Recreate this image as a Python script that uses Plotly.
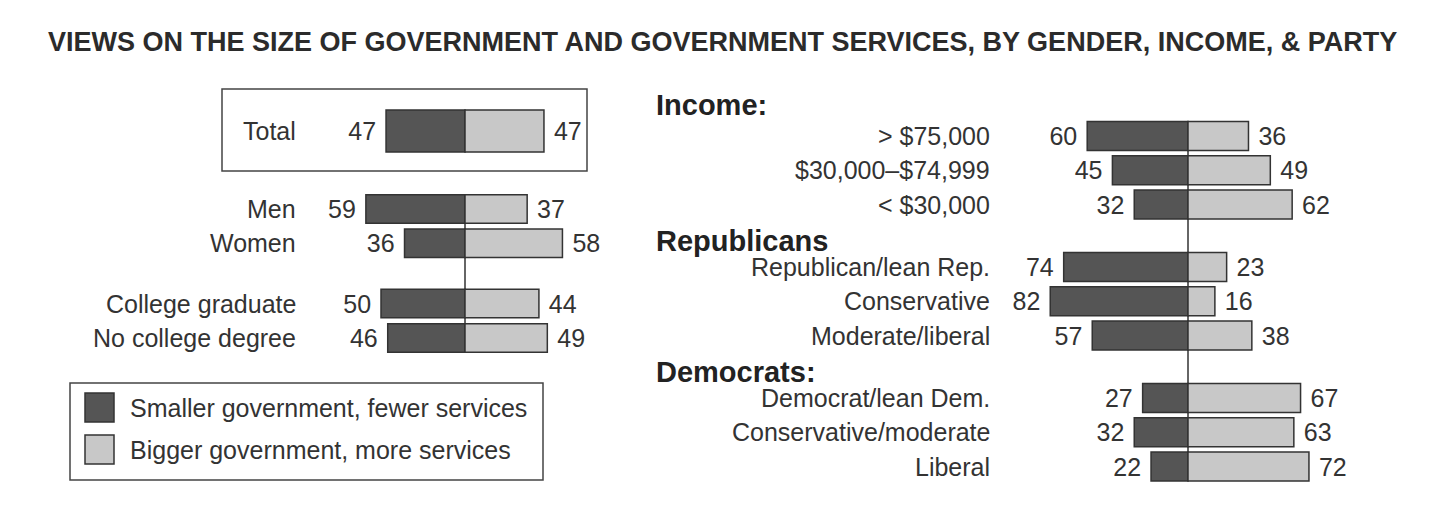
import plotly.graph_objects as go

# ---------------- data ----------------
title_text = "VIEWS ON THE SIZE OF GOVERNMENT AND GOVERNMENT SERVICES, BY GENDER, INCOME, & PARTY"
series_names = ["Smaller government, fewer services", "Bigger government, more services"]

left_labels = ["Total", "Men", "Women", "College graduate", "No college degree"]
left_smaller = [47, 59, 36, 50, 46]
left_bigger = [47, 37, 58, 44, 49]
left_groups = [0, 1, 1, 2, 2]

right_headers = ["Income:", "Republicans", "Democrats:"]
right_labels = ["> $75,000", "$30,000\u2013$74,999", "< $30,000",
                "Republican/lean Rep.", "Conservative", "Moderate/liberal",
                "Democrat/lean Dem.", "Conservative/moderate", "Liberal"]
right_smaller = [60, 45, 32, 74, 82, 57, 27, 32, 22]
right_bigger = [36, 49, 62, 23, 16, 38, 67, 63, 72]
right_groups = [0, 0, 0, 1, 1, 1, 2, 2, 2]

# ---------------- layout constants ----------------
W, H = 1440, 529
SCALE = 1.68          # px per percentage point
LC, RC = 465, 1188    # zero line pixel positions (left / right panel)
PITCH = 34.3
DARK = "#555555"
LIGHT = "#c8c8c8"
EDGE = "#333333"
TXT = "#333333"
FONT = "Liberation Sans, Arial, Helvetica, sans-serif"
FS = 25

def positions(groups, start, gaps):
    ys, y, prev = [], start, None
    for g in groups:
        if prev is not None:
            y += PITCH
            if g != prev:
                y += gaps[g - 1]
        ys.append(y)
        prev = g
    return ys

left_y = positions(left_groups, 131, [43.7, 26.0])
right_y = positions(right_groups, 136, [28.1, 28.1])
left_w = [42 if g == 0 else 28.5 for g in left_groups]
right_w = [29 for _ in right_groups]

NB = "\u00a0"
fig = go.Figure()

def add_bars(ys, smaller, bigger, widths, xaxis):
    fig.add_trace(go.Bar(
        y=ys, x=[-v for v in smaller], orientation="h", width=widths,
        marker=dict(color=DARK, line=dict(color=EDGE, width=1.5)),
        text=[f"{v}{NB}" for v in smaller], textposition="outside",
        textangle=0, constraintext="none", cliponaxis=False,
        textfont=dict(family=FONT, size=FS, color=TXT),
        xaxis=xaxis, yaxis="y", name=series_names[0], showlegend=False,
        hoverinfo="skip"))
    fig.add_trace(go.Bar(
        y=ys, x=bigger, orientation="h", width=widths,
        marker=dict(color=LIGHT, line=dict(color=EDGE, width=1.5)),
        text=[f"{NB}{v}" for v in bigger], textposition="outside",
        textangle=0, constraintext="none", cliponaxis=False,
        textfont=dict(family=FONT, size=FS, color=TXT),
        xaxis=xaxis, yaxis="y", name=series_names[1], showlegend=False,
        hoverinfo="skip"))

add_bars(left_y, left_smaller, left_bigger, left_w, "x")
add_bars(right_y, right_smaller, right_bigger, right_w, "x2")

shapes = []
# zero lines (behind bars)
non_total = [y for y, g in zip(left_y, left_groups) if g != 0]
shapes.append(dict(type="line", xref="x", yref="y", x0=0, x1=0,
                   y0=non_total[0] - 14, y1=non_total[-1] + 14,
                   line=dict(color=EDGE, width=1.5), layer="below"))
shapes.append(dict(type="line", xref="x2", yref="y", x0=0, x1=0,
                   y0=right_y[0] - 14, y1=right_y[-1] + 14,
                   line=dict(color=EDGE, width=1.5), layer="below"))
# Total box
shapes.append(dict(type="rect", xref="paper", yref="y", x0=222 / W, x1=587 / W,
                   y0=89, y1=171, line=dict(color="#444444", width=1.5)))
# legend box + swatches
shapes.append(dict(type="rect", xref="paper", yref="y", x0=70 / W, x1=543 / W,
                   y0=383, y1=480, line=dict(color="#444444", width=1.5)))
for (yy0, col) in [(393, DARK), (435, LIGHT)]:
    shapes.append(dict(type="rect", xref="paper", yref="y", x0=85 / W, x1=114 / W,
                       y0=yy0, y1=yy0 + 29, fillcolor=col,
                       line=dict(color=EDGE, width=1.5)))

annotations = []
annotations.append(dict(text=f"<b>{title_text}</b>", xref="paper", yref="y",
                        x=722 / W, y=42, xanchor="center", yanchor="middle",
                        showarrow=False,
                        font=dict(family=FONT, size=27, color="#2b2b2b")))
for lab, y in zip(left_labels, left_y):
    annotations.append(dict(text=lab, xref="paper", yref="y", x=298 / W, y=y,
                            xanchor="right", yanchor="middle", showarrow=False,
                            font=dict(family=FONT, size=FS, color=TXT)))
for lab, y in zip(right_labels, right_y):
    annotations.append(dict(text=lab, xref="paper", yref="y", x=992 / W, y=y,
                            xanchor="right", yanchor="middle", showarrow=False,
                            font=dict(family=FONT, size=FS, color=TXT)))
header_offsets = [31, 26, 26]
for gi, hd in enumerate(right_headers):
    first = right_y[right_groups.index(gi)]
    annotations.append(dict(text=f"<b>{hd}</b>", xref="paper", yref="y",
                            x=654 / W, y=first - header_offsets[gi],
                            xanchor="left", yanchor="middle", showarrow=False,
                            font=dict(family=FONT, size=29, color="#222222")))
for name, yy in zip(series_names, [408, 450]):
    annotations.append(dict(text=name, xref="paper", yref="y", x=128 / W, y=yy,
                            xanchor="left", yanchor="middle", showarrow=False,
                            font=dict(family=FONT, size=FS, color=TXT)))

fig.update_layout(
    width=W, height=H, margin=dict(l=0, r=0, t=0, b=0),
    paper_bgcolor="white", plot_bgcolor="white",
    barmode="overlay", showlegend=False,
    xaxis=dict(range=[-LC / SCALE, (W - LC) / SCALE], visible=False,
               fixedrange=True, domain=[0, 1]),
    xaxis2=dict(range=[-RC / SCALE, (W - RC) / SCALE], visible=False,
                overlaying="x", fixedrange=True),
    yaxis=dict(range=[H, 0], visible=False, fixedrange=True, domain=[0, 1]),
    shapes=shapes, annotations=annotations,
)

fig.write_html("out.html")
